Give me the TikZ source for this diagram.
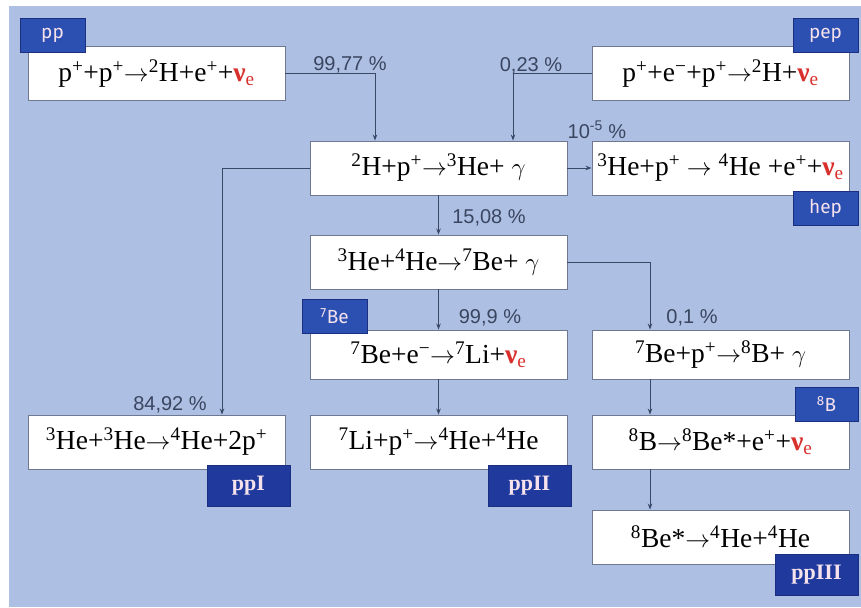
\documentclass[tikz,border=0pt]{standalone}
\usepackage{fontspec}
\setmainfont{Liberation Serif}
\newfontfamily\pctfont{Liberation Sans}
\newfontfamily\tagfont{Fira Sans}
\usetikzlibrary{arrows.meta}
\definecolor{bgblue}{HTML}{ADBFE3}
\definecolor{boxline}{HTML}{6E7890}
\definecolor{linec}{HTML}{3A4868}
\definecolor{tagblue}{HTML}{2B50B2}
\definecolor{chainblue}{HTML}{1F3A9C}
\definecolor{tagline}{HTML}{1A2F80}
\definecolor{tagtext}{HTML}{F6E2EC}
\definecolor{pctgray}{HTML}{3A4660}
\definecolor{nured}{HTML}{D8302C}
\newcommand{\nue}{\textcolor{nured}{\textbf{ν}\textsubscript{e}}}
\newcommand{\sps}[1]{\textsuperscript{#1}}
\newcommand{\rto}{\(\rightarrow\)}
\newcommand{\gam}{\(\gamma\)}
\tikzset{
  ar/.style={-{Stealth[length=6pt,width=4.5pt]},line width=0.9pt,linec},
  rxbox/.style={draw=boxline,line width=0.9pt,fill=white,minimum width=257pt,minimum height=54pt,inner sep=0pt,font=\fontsize{27.5}{30}\selectfont},
  tagbox/.style={draw=tagline,line width=0.6pt,fill=tagblue,minimum width=65pt,minimum height=34pt,inner sep=0pt,text=tagtext,font=\tagfont\fontsize{19}{20}\selectfont},
  chainbox/.style={tagbox,fill=chainblue,minimum width=83pt,minimum height=41pt,font=\bfseries\fontsize{22}{24}\selectfont},
  pct/.style={font=\pctfont\fontsize{20}{22}\selectfont,text=pctgray,inner sep=0pt}
}
\begin{document}
\begin{tikzpicture}[x=1pt,y=-1pt]
\useasboundingbox (0,0) rectangle (861,607);
\fill[bgblue] (9,6) rectangle (861,607);
\node[rxbox] (pp) at (156.5,73.5) {p\sps{+}+p\sps{+}\rto\sps{2}H+e\sps{+}+\nue};
\node[rxbox] (pep) at (720.5,73.5) {p\sps{+}+e\sps{−}+p\sps{+}\rto\sps{2}H+\nue};
\node[rxbox] (dp) at (438.5,168) {\sps{2}H+p\sps{+}\rto\sps{3}He+ \gam};
\node[rxbox] (hep) at (720.5,168) {\sps{3}He+p\sps{+} \rto{} \sps{4}He +e\sps{+}+\nue};
\node[rxbox] (hefour) at (438.5,262) {\sps{3}He+\sps{4}He\rto\sps{7}Be+ \gam};
\node[rxbox,minimum height=49pt] (bee) at (438.5,354.5) {\sps{7}Be+e\sps{−}\rto\sps{7}Li+\nue};
\node[rxbox,minimum height=49pt] (bep) at (720.5,354.5) {\sps{7}Be+p\sps{+}\rto\sps{8}B+ \gam};
\node[rxbox] (hethree) at (156.5,442) {\sps{3}He+\sps{3}He\rto\sps{4}He+2p\sps{+}};
\node[rxbox] (lip) at (438.5,442) {\sps{7}Li+p\sps{+}\rto\sps{4}He+\sps{4}He};
\node[rxbox] (bdec) at (720.5,442) {\sps{8}B\rto\sps{8}Be*+e\sps{+}+\nue};
\node[rxbox] (bestar) at (720.5,537) {\sps{8}Be*\rto\sps{4}He+\sps{4}He};
\draw[ar] (pp.east) -| ([xshift=-63.5pt]dp.north);
\draw[ar] (pep.west) -| ([xshift=74.5pt]dp.north);
\draw[ar] (dp.east) -- (hep.west);
\draw[ar] (dp.west) -| ([xshift=65.5pt]hethree.north);
\draw[ar] (dp.south) -- (hefour.north);
\draw[ar] (hefour.east) -| ([xshift=-70.5pt]bep.north);
\draw[ar] (hefour.south) -- (bee.north);
\draw[ar] (bee.south) -- (lip.north);
\draw[ar] ([xshift=-70.5pt]bep.south) -- ([xshift=-70.5pt]bdec.north);
\draw[ar] ([xshift=-70.5pt]bdec.south) -- ([xshift=-70.5pt]bestar.north);
\node[pct] (p1) at (350,65) {99,77 \%};
\node[pct] (p2) at (531,66) {0,23 \%};
\node[pct] (p3) at (597,130) {10\sps{-5} \%};
\node[pct] (p4) at (170,405) {84,92 \%};
\node[pct] (p5) at (489,218) {15,08 \%};
\node[pct] (p6) at (490,318) {99,9 \%};
\node[pct] (p7) at (692,318) {0,1 \%};
\node[tagbox] (tpp) at (52.5,35) {pp};
\node[tagbox] (tpep) at (825.5,35) {pep};
\node[tagbox] (thep) at (825.5,208) {hep};
\node[tagbox] (tbe) at (334.5,316) {\sps{7}Be};
\node[tagbox,minimum width=63pt] (tb) at (826.5,404) {\sps{8}B};
\node[chainbox] (ppone) at (248.5,485.5) {ppI};
\node[chainbox] (pptwo) at (529.5,485.5) {ppII};
\node[chainbox] (ppthree) at (816.5,574.5) {ppIII};
\end{tikzpicture}
\end{document}
